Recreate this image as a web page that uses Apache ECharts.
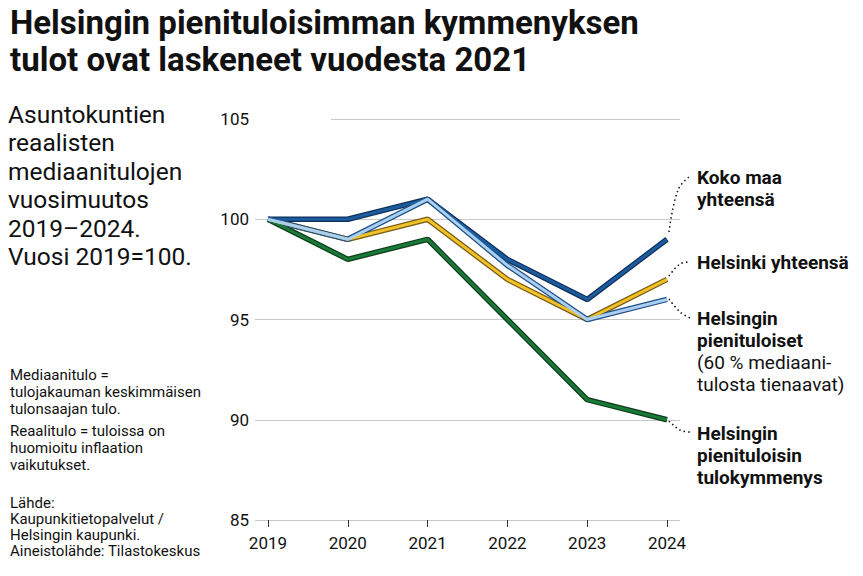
<!DOCTYPE html>
<html><head><meta charset="utf-8">
<script src="https://cdn.jsdelivr.net/npm/echarts@6/dist/echarts.min.js"></script>
<style>html,body{margin:0;padding:0;background:#fff}#chart{width:863px;height:576px}</style>
</head><body><div id="chart"></div>
<script>
const years = [2019, 2020, 2021, 2022, 2023, 2024];
const kokoMaa = [100, 100, 101, 98, 96, 99];
const helsinki = [100, 99, 100, 97, 95, 97];
const pienituloiset = [100, 99, 101, 97.7, 95, 96];
const kymmenys = [100, 98, 99, 95, 91, 90];
const yTicks = [85, 90, 95, 100, 105];

const font = 'Roboto, "Noto Sans", sans-serif';
const pair = (name, data, outer, inner) => [
  { name: name, type: 'line', data: data.map((v, i) => [years[i], v]), symbol: 'none', silent: true,
    lineStyle: { color: outer, width: 5.5 }, z: 3 },
  { name: name, type: 'line', data: data.map((v, i) => [years[i], v]), symbol: 'none', silent: true,
    lineStyle: { color: inner, width: 3 }, z: 4 }
];

const chart = echarts.init(document.getElementById('chart'), null, { renderer: 'svg' });
const txt = (x, y, text, opt) => ({ type: 'text', left: x, top: y,
  style: Object.assign({ text: text, font: '19px ' + font, fill: '#111', lineHeight: 22 }, opt || {}) });
const dots = (pts) => ({ type: 'polyline', shape: { points: pts, smooth: 0.4 },
  style: { stroke: '#111', lineWidth: 1.5, lineDash: [1.5, 3], fill: null } });

chart.setOption({
  animation: false,
  textStyle: { fontFamily: font },
  grid: { left: 255, right: 183, top: 119, bottom: 56 },
  xAxis: {
    type: 'value', min: 2018.8375, max: 2024.1625,
    splitLine: { show: false },
    axisLine: { show: false },
    axisTick: { show: true, customValues: years, length: 7, lineStyle: { color: '#333' } },
    axisLabel: { customValues: years, color: '#111', fontSize: 17, margin: 14, formatter: v => String(v) }
  },
  yAxis: {
    type: 'value', min: 85, max: 105, interval: 5,
    axisLine: { show: false }, axisTick: { show: false },
    splitLine: { lineStyle: { color: '#c8c8c8', width: 1 } },
    axisLabel: { color: '#111', fontSize: 17, margin: 6, formatter: v => yTicks.includes(v) ? String(v) : '' }
  },
  series: [
    ...pair('Helsingin pienituloisin tulokymmenys', kymmenys, '#0d3d1c', '#1a7a35'),
    ...pair('Helsinki yhteensä', helsinki, '#7a5a10', '#efc12a'),
    ...pair('Koko maa yhteensä', kokoMaa, '#0e2f5e', '#1d5c9c'),
    ...pair('Helsingin pienituloiset', pienituloiset, '#1f4f86', '#a9d0f0')
  ],
  graphic: [
    txt(10, 4, 'Helsingin pienituloisimman kymmenyksen\ntulot ovat laskeneet vuodesta 2021',
      { font: 'bold 33px ' + font, lineHeight: 37 }),
    txt(8, 100, 'Asuntokuntien\nreaalisten\nmediaanitulojen\nvuosimuutos\n2019–2024.\nVuosi 2019=100.',
      { font: '24.5px ' + font, lineHeight: 28.5 }),
    txt(10, 366, 'Mediaanitulo =\ntulojakauman keskimmäisen\ntulonsaajan tulo.', { font: '15px ' + font, lineHeight: 17 }),
    txt(10, 422, 'Reaalitulo = tuloissa on\nhuomioitu inflaation\nvaikutukset.', { font: '15px ' + font, lineHeight: 17 }),
    txt(10, 495, 'Lähde:\nKaupunkitietopalvelut /\nHelsingin kaupunki.\nAineistolähde: Tilastokeskus', { font: '15px ' + font, lineHeight: 16 }),
    { type: 'rect', left: 255, top: 110, shape: { width: 76, height: 20 }, style: { fill: '#fff' }, z: 1 },
    txt(260, 108, 'indeksi', { font: 'italic 18px ' + font }),
    txt(697, 166, 'Koko maa\nyhteensä', { font: 'bold 19px ' + font }),
    txt(697, 251, 'Helsinki yhteensä', { font: 'bold 19px ' + font }),
    txt(697, 307, 'Helsingin\npienituloiset', { font: 'bold 19px ' + font }),
    txt(697, 351, '(60 % mediaani-\ntulosta tienaavat)', { font: '19px ' + font }),
    txt(697, 422, 'Helsingin\npienituloisin\ntulokymmenys', { font: 'bold 19px ' + font }),
    dots([[669, 232], [678, 190], [690, 176]]),
    dots([[669, 276], [680, 264], [690, 262]]),
    dots([[669, 299], [680, 312], [690, 318]]),
    dots([[669, 421], [680, 430], [690, 432]])
  ]
});
</script></body></html>
